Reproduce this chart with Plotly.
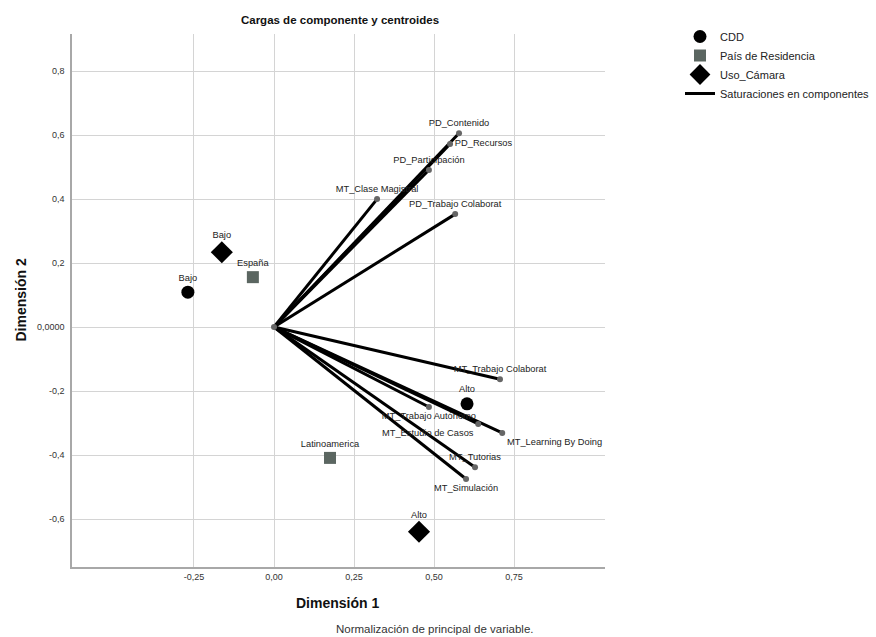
import plotly.graph_objects as go

# ---- data ----
var_names = ["PD_Contenido", "PD_Recursos", "PD_Participación", "MT_Clase Magistral",
             "PD_Trabajo Colaborat", "MT_Trabajo Colaborat", "MT_Trabajo Autónomo",
             "MT_Estudio de Casos", "MT_Learning By Doing", "MT_Tutorias", "MT_Simulación"]
var_d1 = [0.578, 0.550, 0.484, 0.322, 0.566, 0.706, 0.484, 0.638, 0.713, 0.628, 0.600]
var_d2 = [0.606, 0.572, 0.491, 0.400, 0.353, -0.163, -0.250, -0.303, -0.331, -0.438, -0.475]

cdd_labels = ["Bajo", "Alto"]
cdd_d1 = [-0.269, 0.603]
cdd_d2 = [0.109, -0.240]

pais_labels = ["España", "Latinoamerica"]
pais_d1 = [-0.066, 0.175]
pais_d2 = [0.156, -0.409]

cam_labels = ["Bajo", "Alto"]
cam_d1 = [-0.163, 0.453]
cam_d2 = [0.234, -0.640]

x_ticks = [-0.25, 0.0, 0.25, 0.5, 0.75]
x_tick_labels = ["-0,25", "0,00", "0,25", "0,50", "0,75"]
y_ticks = [-0.6, -0.4, -0.2, 0.0, 0.2, 0.4, 0.6, 0.8]
y_tick_labels = ["-0,6", "-0,4", "-0,2", "0,0000", "0,2", "0,4", "0,6", "0,8"]

# ---- style ----
FONT = "Liberation Sans, Arial, sans-serif"
var_textpos = ["top center", "middle right", "top center", "top center", "top center",
               "top center", "bottom center", "bottom left", "bottom right",
               "top center", "bottom center"]

L, R, T, B = 72, 271, 34, 70
PW = 876 - L - R
PH = 637 - T - B

fig = go.Figure()

# vectors
lx, ly = [], []
for x, y in zip(var_d1, var_d2):
    lx += [0, x, None]
    ly += [0, y, None]
fig.add_trace(go.Scatter(x=lx, y=ly, mode="lines", line=dict(color="black", width=3),
                         name="Saturaciones en componentes", showlegend=False, hoverinfo="skip"))
# endpoint dots + labels
fig.add_trace(go.Scatter(x=var_d1 + [0], y=var_d2 + [0], mode="markers+text",
                         text=var_names + [""], textposition=var_textpos + ["top center"],
                         textfont=dict(size=9.3, color="#222", family=FONT),
                         marker=dict(size=6, color="#666666"), showlegend=False, hoverinfo="skip"))

# centroids
fig.add_trace(go.Scatter(x=cdd_d1, y=cdd_d2, mode="markers+text", text=cdd_labels,
                         textposition="top center", textfont=dict(size=9.3, color="#222", family=FONT),
                         marker=dict(symbol="circle", size=13, color="black"), name="CDD"))
fig.add_trace(go.Scatter(x=pais_d1, y=pais_d2, mode="markers+text", text=pais_labels,
                         textposition="top center", textfont=dict(size=9.3, color="#222", family=FONT),
                         marker=dict(symbol="square", size=12, color="#5b6661"), name="País de Residencia"))
fig.add_trace(go.Scatter(x=cam_d1, y=cam_d2, mode="markers+text", text=cam_labels,
                         textposition="top center", textfont=dict(size=9.3, color="#222", family=FONT),
                         marker=dict(symbol="diamond", size=17, color="black"), name="Uso_Cámara"))
# legend entry for vectors
fig.add_trace(go.Scatter(x=[None], y=[None], mode="lines", line=dict(color="black", width=3),
                         name="Saturaciones en componentes"))

fig.update_layout(
    width=876, height=637,
    margin=dict(l=L, r=R, t=T, b=B, autoexpand=False),
    plot_bgcolor="white", paper_bgcolor="white",
    font=dict(family=FONT, size=10, color="#222"),
    title=dict(text="<b>Cargas de componente y centroides</b>", x=340 / 876,
               xanchor="center", y=1 - 20 / 637, yanchor="middle",
               font=dict(size=11.5, color="#111", family=FONT)),
    legend=dict(x=(680 - L) / PW, y=1 - (22 - T) / PH, xanchor="left", yanchor="top",
                font=dict(size=11, family=FONT),
                tracegroupgap=0, itemwidth=30, bgcolor="rgba(0,0,0,0)"),
    xaxis=dict(range=[-0.631, 1.034], tickvals=x_ticks, ticktext=x_tick_labels,
               showgrid=True, gridcolor="#d4d4d4", gridwidth=1, zeroline=False,
               showline=True, linecolor="#a8a8a8", linewidth=1.5, ticks="",
               tickfont=dict(size=9, color="#333"), fixedrange=True),
    yaxis=dict(range=[-0.75, 0.916], tickvals=y_ticks, ticktext=y_tick_labels,
               showgrid=True, gridcolor="#d4d4d4", gridwidth=1, zeroline=False,
               showline=True, linecolor="#a8a8a8", linewidth=1.5, ticks="",
               ticklabelstandoff=4,
               tickfont=dict(size=9, color="#333"), fixedrange=True),
    showlegend=True,
)

fig.add_annotation(text="<b>Dimensión 1</b>", xref="paper", yref="paper",
                   x=(337 - L) / PW, y=-(603 - 567) / PH, xanchor="center", yanchor="middle",
                   showarrow=False, font=dict(size=14, color="#111", family=FONT))
fig.add_annotation(text="<b>Dimensión 2</b>", xref="paper", yref="paper",
                   x=-(72 - 20) / PW, y=0.5, textangle=-90, xanchor="center", yanchor="middle",
                   showarrow=False, font=dict(size=14, color="#111", family=FONT))
fig.add_annotation(text="Normalización de principal de variable.", xref="paper", yref="paper",
                   x=(334 - L) / PW, y=-(629 - 567) / PH, xanchor="left", yanchor="middle",
                   showarrow=False, font=dict(size=11.5, color="#333", family=FONT))

fig.write_html("out.html", config={"displayModeBar": False},
               post_script="document.body.style.margin='0';document.body.style.overflow='hidden';")
